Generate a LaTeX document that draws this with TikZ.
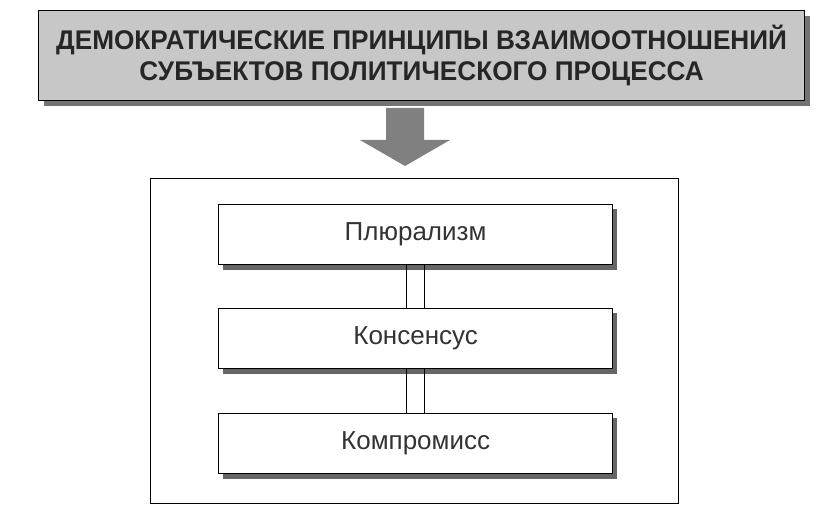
\documentclass[tikz,border=0pt]{standalone}
\usepackage{fontspec}
\setmainfont{Liberation Sans}
\begin{document}
\begin{tikzpicture}[x=1pt,y=-1pt,
  box/.style={draw=black,line width=1.2pt,fill=white},
  lbl/.style={font=\fontsize{26}{30}\selectfont,text=black!80}]
\useasboundingbox (0,0) rectangle (825,505);
% title
\fill[black!55] (44,16) rectangle (810,106);
\node[draw=black,line width=1.2pt,fill=black!22,minimum width=766pt,minimum height=90pt,anchor=north west,inner sep=0pt] (title) at (38,10) {};
\node[font=\bfseries\fontsize{27}{31}\selectfont,align=center,text=black!85,xscale=0.97] (tt) at (title.center) {ДЕМОКРАТИЧЕСКИЕ ПРИНЦИПЫ ВЗАИМООТНОШЕНИЙ\\СУБЪЕКТОВ ПОЛИТИЧЕСКОГО ПРОЦЕССА};
% arrow
\fill[black!50] (386,108) -- (424,108) -- (424,140) -- (450,140) -- (405,166) -- (360,140) -- (386,140) -- cycle;
% outer
\node[draw=black,line width=1pt,minimum width=528pt,minimum height=325pt,anchor=north west,inner sep=0pt] (outer) at (150,178) {};
% inner boxes
\foreach \n/\y/\t in {a/204/Плюрализм,b/308/Консенсус,c/413/Компромисс}{
  \fill[black!60] (223,\y+5) rectangle (617,\y+66);
  \node[box,minimum width=394pt,minimum height=60pt,anchor=north west,inner sep=0pt] (\n) at (218,\y) {};
  \node[lbl] at (\n.center) {\t};
}
\foreach \u/\v in {a/b,b/c}{
  \draw[line width=1.2pt] ([xshift=-9pt]\u.south) -- ([xshift=-9pt]\v.north);
  \draw[line width=1.2pt] ([xshift=9pt]\u.south) -- ([xshift=9pt]\v.north);
}
\end{tikzpicture}
\end{document}
